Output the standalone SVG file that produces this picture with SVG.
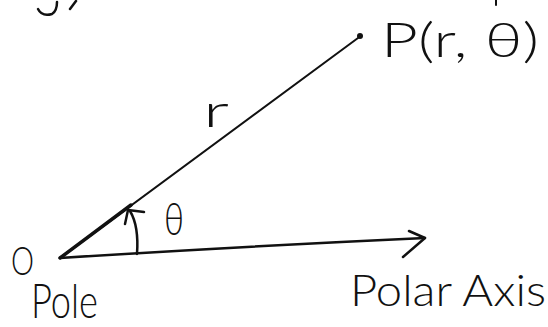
<svg xmlns="http://www.w3.org/2000/svg" width="548" height="327" viewBox="0 0 548 327">
<style>
.ink{fill:none;stroke:#111;stroke-linecap:round;stroke-linejoin:round}
.t{font-family:"Lato","Open Sans","Liberation Sans",sans-serif;font-weight:300;fill:#111}
</style>
<rect width="548" height="327" fill="#fff"/>
<g id="fragments">
<path class="ink" stroke-width="2.5" d="M38,9 Q42,17 52,14 Q57,11 57,2"/>
<path class="ink" stroke-width="2.5" d="M76,1 L70,9"/>
<path class="ink" stroke-width="2" d="M496,0 L496,5"/>
</g>
<g id="connectors">
<path class="ink" stroke-width="2" d="M60,258 L358,38"/>
<path class="ink" stroke-width="3.5" d="M60,258 L131,205"/>
<circle cx="360" cy="36" r="3" fill="#111"/>
<path class="ink" stroke-width="2.5" d="M60,258 Q250,246 425,238"/>
<path class="ink" stroke-width="2.5" d="M409,231 L425,238 L403,257"/>
<path class="ink" stroke-width="2.5" d="M137,254 Q139,226 130,211"/>
<path class="ink" stroke-width="2.5" d="M125,224 L128,210 L144,212"/>
</g>
<g id="pole">
<text class="t" x="11" y="275" font-size="40" textLength="23" lengthAdjust="spacingAndGlyphs">O</text>
<text class="t" x="31" y="318" font-size="48" textLength="67" lengthAdjust="spacingAndGlyphs">Pole</text>
</g>
<g id="point-P">
<text class="t" x="381" y="57" font-size="48" textLength="158" lengthAdjust="spacingAndGlyphs">P(r, θ)</text>
</g>
<g id="label-r">
<text class="t" x="203" y="127" font-size="46" textLength="26" lengthAdjust="spacingAndGlyphs">r</text>
</g>
<g id="label-theta">
<text class="t" x="164" y="235" font-size="46" textLength="20" lengthAdjust="spacingAndGlyphs">θ</text>
</g>
<g id="polar-axis">
<text class="t" x="350" y="306" font-size="44" textLength="196" lengthAdjust="spacingAndGlyphs">Polar Axis</text>
</g>
</svg>
